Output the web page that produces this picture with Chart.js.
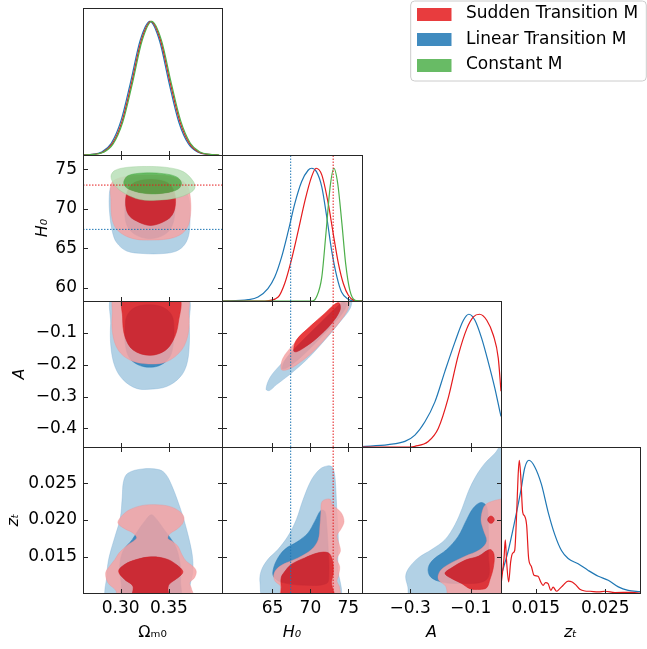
<!DOCTYPE html>
<html><head><meta charset="utf-8">
<script src="https://cdn.jsdelivr.net/npm/chart.js@4.4.1/dist/chart.umd.min.js"></script>
<style>
html,body{margin:0;padding:0;background:#fff;}
body{position:relative;width:647px;height:649px;overflow:hidden;}
canvas{position:absolute;}
</style></head><body>
<script>
// ---------- axis ranges & ticks ----------
const omRange=[0.261,0.405];
const h0Range=[58.35,76.8];
const aRange=[-0.4585,0.0];
const ztRange=[0.0100,0.0300];
const densRange=[0,1.1];
const omTicks=[0.30,0.35];
const h0Ticks=[65,70,75];
const h0YTicks=[60,65,70,75];
const aXTicks=[-0.3,-0.1];
const aYTicks=[-0.4,-0.3,-0.2,-0.1];
const ztXTicks=[0.015,0.025];
const ztYTicks=[0.015,0.020,0.025];
const seriesNames=['Sudden Transition M','Linear Transition M','Constant M'];
const h0Planck=67.4, h0SH0ES=73.0;

// ---------- 1D marginals [x, density] ----------
const om_lin=[[0.2603,0.0006],[0.2703,0.005],[0.2803,0.023],[0.2903,0.088],[0.3003,0.255],[0.3103,0.545],[0.3203,0.86],[0.3303,1.0],[0.3403,0.855],[0.3503,0.535],[0.3603,0.245],[0.3703,0.082],[0.3803,0.02],[0.3903,0.004],[0.4003,0.0005]];
const om_sud=[[0.2614,0.0005],[0.2714,0.004],[0.2814,0.021],[0.2914,0.085],[0.3014,0.25],[0.3114,0.54],[0.3214,0.857],[0.3314,1.0],[0.3414,0.857],[0.3514,0.54],[0.3614,0.25],[0.3714,0.085],[0.3814,0.021],[0.3914,0.004],[0.4014,0.0005]];
const om_con=[[0.2622,0.0005],[0.2722,0.004],[0.2822,0.02],[0.2922,0.083],[0.3022,0.247],[0.3122,0.537],[0.3222,0.855],[0.3322,1.0],[0.3422,0.86],[0.3522,0.545],[0.3622,0.255],[0.3722,0.088],[0.3822,0.023],[0.3922,0.005],[0.4022,0.0006]];

const h0_lin=[[58.35,0],[61.8,0.01],[63.1,0.03],[64.4,0.093],[65.3,0.18],[66.2,0.33],[67.1,0.53],[67.95,0.735],[68.85,0.90],[69.7,0.985],[70.15,1.0],[70.8,0.975],[71.5,0.86],[72.15,0.635],[72.8,0.38],[73.5,0.18],[74.1,0.068],[75.0,0.013],[75.9,0],[76.8,0]];
const h0_sud=[[58.35,0],[64.0,0],[65.75,0.03],[66.6,0.13],[67.5,0.31],[68.4,0.53],[69.3,0.76],[70.15,0.935],[70.75,1.0],[71.5,0.95],[72.35,0.735],[73.0,0.51],[73.7,0.28],[74.35,0.13],[75.0,0.043],[75.7,0.005],[76.3,0],[76.8,0]];
const h0_con=[[58.35,0],[70.2,0],[70.8,0.03],[71.5,0.18],[72.05,0.51],[72.6,0.86],[73.1,1.0],[73.6,0.885],[74.15,0.585],[74.65,0.28],[75.2,0.08],[75.9,0.005],[76.8,0]];

const a_lin=[[-0.46,0.003],[-0.372,0.018],[-0.317,0.042],[-0.284,0.09],[-0.251,0.19],[-0.218,0.34],[-0.185,0.57],[-0.152,0.79],[-0.124,0.955],[-0.106,1.0],[-0.086,0.955],[-0.064,0.82],[-0.042,0.64],[-0.020,0.44],[-0.003,0.26],[0.0,0.23]];
const a_sud=[[-0.46,0],[-0.30,0],[-0.284,0.005],[-0.240,0.042],[-0.207,0.14],[-0.174,0.37],[-0.141,0.69],[-0.113,0.89],[-0.091,0.98],[-0.071,1.0],[-0.047,0.955],[-0.025,0.84],[-0.009,0.67],[0.0,0.42]];

const zt_lin=[[0.00995,0.12],[0.0110,0.31],[0.01197,0.54],[0.01292,0.79],[0.0134,0.94],[0.01403,1.0],[0.01486,0.95],[0.01581,0.82],[0.01678,0.61],[0.01774,0.44],[0.0187,0.32],[0.01966,0.26],[0.0211,0.22],[0.02255,0.17],[0.0240,0.126],[0.02543,0.096],[0.02688,0.046],[0.0283,0.02],[0.0300,0.01]];
const zt_sud=[[0.0100,0.06],[0.01043,0.26],[0.01062,0.40],[0.01081,0.235],[0.0111,0.083],[0.01139,0.235],[0.01168,0.30],[0.01197,0.32],[0.01226,0.61],[0.01245,0.87],[0.01263,1.0],[0.01283,0.89],[0.01312,0.61],[0.0134,0.58],[0.01369,0.51],[0.01398,0.26],[0.01437,0.20],[0.01475,0.134],[0.01533,0.126],[0.01572,0.083],[0.01606,0.058],[0.0164,0.078],[0.01678,0.07],[0.01717,0.02],[0.0175,0.045],[0.01798,0.013],[0.01846,0.033],[0.01894,0.058],[0.01966,0.09],[0.02024,0.083],[0.02072,0.063],[0.02134,0.028],[0.02207,0.015],[0.02279,0.013],[0.0240,0.008],[0.02496,0.013],[0.0264,0.003],[0.0288,0.005],[0.0300,0.0]];

// ---------- 2D contours (68% / 95%) ----------
const omH0_lin95=[[0.2882,71.58],[0.2889,69.07],[0.2917,66.98],[0.2959,65.73],[0.3062,64.67],[0.3234,64.35],[0.3441,64.35],[0.3579,64.67],[0.3665,65.52],[0.3710,66.98],[0.3717,69.90],[0.3700,71.58],[0.3614,73.27],[0.3476,73.90],[0.3234,74.03],[0.3027,73.69],[0.2906,72.85]];
const omH0_lin68=[[0.3303,73.90],[0.3476,73.48],[0.3545,72.00],[0.3562,70.10],[0.3538,68.00],[0.3458,66.77],[0.3303,66.23],[0.3148,66.77],[0.3062,68.00],[0.3045,70.10],[0.3069,72.00],[0.3148,73.40]];
const omH0_sud95=[[0.2906,73.27],[0.2899,71.17],[0.2913,68.65],[0.2975,67.20],[0.3130,66.23],[0.3338,66.06],[0.3545,66.35],[0.3665,67.20],[0.3717,68.65],[0.3724,71.17],[0.3683,73.06],[0.3545,74.03],[0.3269,74.27],[0.3027,74.03]];
const omH0_sud68=[[0.3310,73.70],[0.3476,73.35],[0.3545,72.47],[0.3569,70.90],[0.3538,69.30],[0.3458,68.45],[0.3310,67.90],[0.3165,68.45],[0.3079,69.30],[0.3051,70.90],[0.3079,72.47],[0.3148,73.35]];
const omH0_con95=[[0.2900,74.10],[0.2938,74.83],[0.3062,75.23],[0.3269,75.35],[0.3476,75.23],[0.3648,74.70],[0.3752,73.48],[0.3769,72.64],[0.3717,72.00],[0.3579,71.38],[0.3372,71.08],[0.3200,71.17],[0.3045,71.92],[0.2941,72.93]];
const omH0_con68=[[0.3034,73.48],[0.3079,74.20],[0.3234,74.52],[0.3441,74.44],[0.3579,74.03],[0.3630,73.27],[0.3596,72.50],[0.3458,72.00],[0.3269,71.92],[0.3114,72.34],[0.3045,72.85]];

const omA_lin95=[[0.2923,0.0125],[0.2896,-0.0706],[0.2899,-0.1437],[0.2941,-0.2060],[0.3027,-0.2478],[0.3165,-0.2747],[0.3303,-0.2770],[0.3476,-0.2686],[0.3614,-0.2394],[0.3683,-0.2008],[0.3710,-0.1437],[0.3710,-0.0706],[0.3683,0.0125]];
const omA_lin68=[[0.3298,-0.0120],[0.3440,-0.0200],[0.3530,-0.0450],[0.3552,-0.0850],[0.3545,-0.1350],[0.3510,-0.1750],[0.3420,-0.2000],[0.3300,-0.2080],[0.3180,-0.2000],[0.3090,-0.1780],[0.3050,-0.1400],[0.3045,-0.0900],[0.3065,-0.0470],[0.3150,-0.0200]];
const omA_sud95=[[0.2941,0.0125],[0.2913,-0.0394],[0.2917,-0.1019],[0.2975,-0.1540],[0.3096,-0.1852],[0.3286,-0.1977],[0.3476,-0.1904],[0.3631,-0.1540],[0.3700,-0.1019],[0.3707,-0.0394],[0.3683,0.0125]];
const omA_sud68=[[0.3034,0.0125],[0.3020,-0.0500],[0.3045,-0.1122],[0.3130,-0.1540],[0.3303,-0.1706],[0.3458,-0.1560],[0.3545,-0.1228],[0.3596,-0.0706],[0.3596,0.0125]];

const h0A_lin95=[[64.16,-0.277],[64.70,-0.2394],[66.15,-0.1978],[67.70,-0.1594],[69.91,-0.1072],[72.35,-0.0500],[74.12,-0.0063],[74.50,0.0080],[75.40,0.0060],[75.23,-0.0237],[73.90,-0.0656],[71.90,-0.1228],[69.69,-0.1800],[67.48,-0.2269],[65.49,-0.2634],[64.60,-0.2812]];
const h0A_lin68=[[66.29,-0.2125],[66.82,-0.1800],[68.59,-0.1331],[71.24,-0.0706],[73.46,-0.0188],[74.35,-0.0030],[74.79,-0.0134],[73.68,-0.0550],[71.46,-0.1125],[68.81,-0.1750],[67.04,-0.2081]];
const h0A_sud95=[[66.15,-0.2144],[66.37,-0.1800],[67.70,-0.1384],[69.91,-0.0812],[72.35,-0.0290],[73.50,-0.0060],[74.20,0.0080],[75.10,0.0080],[75.05,-0.0185],[74.35,-0.0500],[72.57,-0.1020],[70.35,-0.1594],[68.15,-0.2009],[66.82,-0.2166]];
const h0A_sud68=[[67.79,-0.1562],[68.15,-0.1228],[69.91,-0.0812],[71.90,-0.0394],[73.24,-0.0094],[73.81,-0.0070],[73.90,-0.0290],[72.79,-0.0706],[70.80,-0.1175],[69.03,-0.1487],[68.15,-0.1594]];

const omZt_lin95=[[0.2869,0.0092],[0.2858,0.01254],[0.2879,0.01482],[0.2937,0.01754],[0.2996,0.02027],[0.3016,0.02300],[0.3030,0.02527],[0.3075,0.02641],[0.3230,0.02700],[0.3404,0.02687],[0.3472,0.02618],[0.3534,0.02458],[0.3593,0.02254],[0.3645,0.02049],[0.3697,0.01800],[0.3741,0.01527],[0.3748,0.01299],[0.3721,0.01117],[0.3697,0.0092]];
const omZt_lin68=[[0.3317,0.02072],[0.3376,0.02004],[0.3438,0.01891],[0.3514,0.01754],[0.3576,0.01618],[0.3617,0.01390],[0.3621,0.01162],[0.3604,0.0092],[0.3016,0.0092],[0.3007,0.01117],[0.2990,0.01345],[0.3024,0.01572],[0.3120,0.01731],[0.3175,0.01845],[0.3248,0.01981]];
const omZt_sud95=[[0.2972,0.01959],[0.3007,0.02049],[0.3093,0.02140],[0.3230,0.02200],[0.3369,0.02209],[0.3507,0.02186],[0.3611,0.02117],[0.3656,0.02035],[0.3638,0.01945],[0.3576,0.01868],[0.3507,0.01809],[0.3490,0.01745],[0.3534,0.01708],[0.3593,0.01640],[0.3634,0.01527],[0.3679,0.01435],[0.3748,0.01367],[0.3783,0.01299],[0.3765,0.01209],[0.3714,0.01140],[0.3731,0.01072],[0.3748,0.0092],[0.2954,0.0092],[0.2954,0.01026],[0.2869,0.01140],[0.2845,0.01277],[0.2886,0.01367],[0.2940,0.01458],[0.2985,0.01550],[0.3080,0.01663],[0.3165,0.01754],[0.3127,0.01823],[0.3041,0.01881]];
const omZt_sud68=[[0.2979,0.01299],[0.3041,0.01390],[0.3162,0.01458],[0.3317,0.01495],[0.3472,0.01467],[0.3576,0.01390],[0.3645,0.01291],[0.3593,0.01209],[0.3507,0.01127],[0.3490,0.01072],[0.3490,0.0092],[0.3127,0.0092],[0.3127,0.01094],[0.3041,0.01186]];

const h0Zt_lin95=[[72.26,0.02741],[72.88,0.02722],[73.23,0.02595],[73.46,0.02186],[73.68,0.01731],[73.59,0.01367],[73.68,0.0092],[63.94,0.0092],[63.36,0.01140],[63.50,0.01299],[64.38,0.01458],[65.71,0.01595],[67.03,0.01777],[68.14,0.02004],[69.03,0.02277],[70.14,0.02550],[71.25,0.02696]];
const h0Zt_lin68=[[65.04,0.01277],[65.49,0.01435],[66.59,0.01595],[68.36,0.01708],[69.69,0.01823],[70.58,0.01981],[71.38,0.02131],[71.91,0.02118],[72.13,0.01959],[72.35,0.01595],[72.44,0.01277],[72.13,0.01131],[68.81,0.01108],[66.15,0.01149],[65.27,0.01209]];
const h0Zt_sud95=[[71.55,0.02254],[72.57,0.02286],[72.88,0.02209],[74.03,0.02104],[74.43,0.01981],[74.03,0.01877],[73.50,0.01786],[73.77,0.01677],[73.95,0.01572],[73.50,0.01468],[73.86,0.01358],[73.68,0.01231],[73.50,0.01162],[73.86,0.01072],[73.77,0.0092],[66.15,0.0092],[66.06,0.01094],[65.35,0.01162],[65.18,0.01254],[65.71,0.01345],[66.81,0.01413],[68.36,0.01481],[70.14,0.01595],[71.03,0.01731],[71.25,0.01913],[71.38,0.02095]];
const h0Zt_sud68=[[66.50,0.01277],[67.47,0.01390],[69.25,0.01481],[71.03,0.01550],[72.35,0.01550],[72.88,0.01458],[73.01,0.01277],[72.79,0.01140],[73.01,0.0092],[66.37,0.0092],[66.15,0.01094],[66.15,0.01209]];

const aZt_lin95=[[0.0022,0.03027],[-0.0199,0.02914],[-0.0529,0.02778],[-0.0835,0.02595],[-0.1078,0.02390],[-0.1277,0.02164],[-0.1518,0.01936],[-0.1847,0.01731],[-0.2287,0.01595],[-0.2728,0.01481],[-0.3034,0.01345],[-0.3144,0.01231],[-0.3078,0.01094],[-0.2968,0.0092],[0.0077,0.0092]];
const aZt_lin68=[[-0.0660,0.02240],[-0.0473,0.02186],[-0.0418,0.01913],[-0.0418,0.01550],[-0.0473,0.01186],[-0.1518,0.01131],[-0.2068,0.01163],[-0.2343,0.01231],[-0.2398,0.01345],[-0.2233,0.01458],[-0.1792,0.01595],[-0.1409,0.01777],[-0.1133,0.02004],[-0.0913,0.02164]];
const aZt_sud95=[[-0.0308,0.02254],[-0.0110,0.02277],[0.0022,0.02277],[0.0022,0.0092],[-0.1682,0.0092],[-0.1825,0.01094],[-0.2068,0.01186],[-0.2013,0.01299],[-0.1737,0.01390],[-0.1188,0.01503],[-0.0693,0.01595],[-0.0473,0.01708],[-0.0583,0.01868],[-0.0660,0.02004],[-0.0583,0.02164],[-0.0473,0.02222]];
const aZt_sud68=[[-0.1847,0.01267],[-0.1627,0.01345],[-0.1188,0.01449],[-0.0750,0.01503],[-0.0364,0.01595],[-0.0232,0.01531],[-0.0254,0.01345],[-0.0364,0.01186],[-0.0473,0.01072],[-0.0693,0.01049],[-0.1023,0.01059],[-0.1298,0.01131],[-0.1572,0.01186]];
const aZt_sud68b=[[-0.0440,0.02004],[-0.0397,0.02041],[-0.0331,0.02055],[-0.0265,0.02041],[-0.0221,0.02004],[-0.0265,0.01967],[-0.0331,0.01954],[-0.0397,0.01967]];

// ---------- styling ----------
const COL={
  sud:{line:'rgb(228,26,28)',c68:'rgba(228,26,28,0.85)',c95:'rgba(244,163,164,0.85)',e68:'rgba(228,26,28,0.9)',e95:'rgba(238,140,142,0.6)'},
  lin:{line:'rgb(31,119,180)',c68:'rgba(31,119,180,0.85)',c95:'rgba(165,201,225,0.85)',e68:'rgba(31,119,180,0.9)',e95:'rgba(120,170,210,0.6)'},
  con:{line:'rgb(77,175,74)',c68:'rgba(77,175,74,0.85)',c95:'rgba(184,223,183,0.85)',e68:'rgba(77,175,74,0.9)',e95:'rgba(140,200,138,0.6)'}
};
Chart.defaults.font.family="'DejaVu Sans', 'Liberation Sans', sans-serif";
Chart.defaults.color='#000';

// closes polygon outlines smoothly, and makes the 68% region a separate band from the 95% one
Chart.register({
  id:'contourBands',
  beforeDatasetUpdate(chart,args){
    const ds=chart.data.datasets[args.index];
    if(ds&&ds.closed&&args.meta.dataset){args.meta.dataset._loop=true;args.meta.dataset._fullLoop=true;}
  },
  afterDatasetDraw(chart,args){
    const ds=chart.data.datasets[args.index];
    if(ds.eraseNext) chart.ctx.globalCompositeOperation='destination-out';
    if(ds.resetAfter) chart.ctx.globalCompositeOperation='source-over';
  }
});

const P=a=>a.map(p=>({x:p[0],y:p[1]}));
function shape(arr,fillC,lineC,bw,order,extra){
  return Object.assign({data:P(arr),closed:true,showLine:true,fill:'shape',backgroundColor:fillC,borderColor:lineC,borderWidth:bw,pointRadius:0,tension:0.35,capBezierPoints:false,order:order},extra||{});
}
// one series: 95% band, then 68% region(s)
function series(s,outer,inners){
  const out=[shape(outer,COL[s].c95,COL[s].e95,0.6,20,{eraseNext:true})];
  inners.forEach((a,i)=>out.push(shape(a,'#000','rgba(0,0,0,0)',0.6,15-i,{resetAfter:i===inners.length-1})));
  inners.forEach((a,i)=>out.push(shape(a,COL[s].c68,COL[s].e68,0.6,10-i)));
  return out;
}
function curve(arr,s,order){
  return {data:P(arr),showLine:true,fill:false,borderColor:COL[s].line,backgroundColor:COL[s].line,borderWidth:1.2,pointRadius:0,cubicInterpolationMode:'monotone',order:order};
}
function vline(x,yr,s){
  return {data:[{x:x,y:yr[0]},{x:x,y:yr[1]}],showLine:true,fill:false,borderColor:COL[s].line,borderWidth:1,borderDash:[1.5,1.5],pointRadius:0,tension:0,order:0};
}
function hline(y,xr,s){
  return {data:[{x:xr[0],y:y},{x:xr[1],y:y}],showLine:true,fill:false,borderColor:COL[s].line,borderWidth:1,borderDash:[1.5,1.5],pointRadius:0,tension:0,order:0};
}
const fOm=v=>v.toFixed(2);
const fH0=v=>String(Math.round(v));
const fA=v=>(v<0?'\u2212':'')+Math.abs(v).toFixed(1);
const fZt=v=>v.toFixed(3);

const L=[83,222,362,501,640];
const T=[8,155,301,447,593];

function makePanel(col,row,spec){
  const m=3;
  const showX=row===3, showY=(col===0&&row>0);
  const cl=showY?0:L[col]-m, ct=T[row]-m, cr=L[col+1]+m, cb=showX?649:T[row+1]+m;
  const w=cr-cl,h=cb-ct;
  const layers=spec.layers;
  layers.forEach((dsList,li)=>{
    const isBase=li===0, isTop=li===layers.length-1;
    const cv=document.createElement('canvas');
    cv.width=w;cv.height=h;
    cv.style.left=cl+'px';cv.style.top=ct+'px';cv.style.width=w+'px';cv.style.height=h+'px';
    document.body.appendChild(cv);
    const plugins=[];
    if(isTop){
      plugins.push({id:'frame',afterDraw(chart){
        const c=chart.ctx,a=chart.chartArea,xs=chart.scales.x,ys=chart.scales.y;
        c.globalCompositeOperation='source-over';
        const l=Math.round(a.left)+0.5,r=Math.round(a.right)+0.5,t=Math.round(a.top)+0.5,b=Math.round(a.bottom)+0.5;
        c.save();c.strokeStyle='#262626';c.lineWidth=1;c.setLineDash([]);c.beginPath();
        spec.xt.forEach(v=>{const p=Math.round(xs.getPixelForValue(v))+0.5;c.moveTo(p,b);c.lineTo(p,b-4.5);if(spec.two){c.moveTo(p,t);c.lineTo(p,t+4.5);}});
        if(spec.two){spec.yt.forEach(v=>{const p=Math.round(ys.getPixelForValue(v))+0.5;c.moveTo(l,p);c.lineTo(l+4.5,p);c.moveTo(r,p);c.lineTo(r-4.5,p);});}
        c.stroke();c.strokeRect(l,t,r-l,b-t);c.restore();
      }});
    }
    const dX=isBase&&showX, dY=isBase&&showY;
    const xScale={type:'linear',position:'bottom',min:spec.xr[0],max:spec.xr[1],display:dX,
      grid:{display:false,drawTicks:false},border:{display:false},
      ticks:{autoSkip:false,maxRotation:0,minRotation:0,padding:5,font:{size:17},color:'#000',callback:v=>spec.xf(v)},
      afterBuildTicks:s=>{s.ticks=spec.xt.map(v=>({value:v}));},
      title:{display:!!spec.xTitle,text:spec.xTitle||'',color:'#000',font:{size:16,style:spec.xStyle||'normal'},padding:{top:0,bottom:6.4}}};
    if(dX) xScale.afterFit=s=>{s.height=56;s.paddingLeft=0;s.paddingRight=0;s.paddingTop=0;s.paddingBottom=0;};
    const yScale={type:'linear',position:'left',min:spec.yr[0],max:spec.yr[1],display:dY,
      grid:{display:false,drawTicks:false},border:{display:false},
      ticks:{autoSkip:false,padding:6,font:{size:17},color:'#000',callback:v=>spec.yf?spec.yf(v):''},
      afterBuildTicks:s=>{s.ticks=(spec.yt||[]).map(v=>({value:v}));},
      title:{display:!!spec.yTitle,text:spec.yTitle||'',color:'#000',font:{size:16,style:spec.yStyle||'normal'},padding:{top:spec.yPad||0,bottom:0}}};
    if(dY) yScale.afterFit=s=>{s.width=83;s.paddingTop=0;s.paddingBottom=0;s.paddingLeft=0;s.paddingRight=0;};
    const pad={left:showY?(dY?0:83):m,top:m,right:m,bottom:showX?(dX?0:56):m};
    const ds=isTop?dsList.concat(spec.lines||[]):dsList;
    new Chart(cv,{type:'scatter',data:{datasets:ds},
      options:{responsive:false,animation:false,events:[],devicePixelRatio:1,
        layout:{padding:pad,autoPadding:false},
        plugins:{legend:{display:false},tooltip:{enabled:false}},
        scales:{x:xScale,y:yScale}},
      plugins:plugins});
  });
}

// Row 0: Omega_m0 marginal
makePanel(0,0,{xr:omRange,yr:densRange,xt:omTicks,xf:fOm,two:false,
  layers:[[curve(om_lin,'lin',3),curve(om_sud,'sud',2),curve(om_con,'con',1)]]});
// Row 1
makePanel(0,1,{xr:omRange,yr:h0Range,xt:omTicks,yt:h0YTicks,xf:fOm,yf:fH0,two:true,yTitle:'H\u2080',yStyle:'italic',yPad:33,
  layers:[series('lin',omH0_lin95,[omH0_lin68]),series('sud',omH0_sud95,[omH0_sud68]),series('con',omH0_con95,[omH0_con68])],
  lines:[hline(h0SH0ES,omRange,'sud'),hline(h0Planck,omRange,'lin')]});
makePanel(1,1,{xr:h0Range,yr:densRange,xt:h0Ticks,xf:fH0,two:false,
  layers:[[curve(h0_lin,'lin',3),curve(h0_sud,'sud',2),curve(h0_con,'con',1)]],
  lines:[vline(h0Planck,densRange,'lin'),vline(h0SH0ES,densRange,'sud')]});
// Row 2
makePanel(0,2,{xr:omRange,yr:aRange,xt:omTicks,yt:aYTicks,xf:fOm,yf:fA,two:true,yTitle:'A',yStyle:'italic',yPad:10.5,
  layers:[series('lin',omA_lin95,[omA_lin68]),series('sud',omA_sud95,[omA_sud68])]});
makePanel(1,2,{xr:h0Range,yr:aRange,xt:h0Ticks,yt:aYTicks,xf:fH0,yf:fA,two:true,
  layers:[series('lin',h0A_lin95,[h0A_lin68]),series('sud',h0A_sud95,[h0A_sud68])],
  lines:[vline(h0Planck,aRange,'lin'),vline(h0SH0ES,aRange,'sud')]});
makePanel(2,2,{xr:aRange,yr:densRange,xt:aXTicks,xf:fA,two:false,
  layers:[[curve(a_lin,'lin',2),curve(a_sud,'sud',1)]]});
// Row 3
makePanel(0,3,{xr:omRange,yr:ztRange,xt:omTicks,yt:ztYTicks,xf:fOm,yf:fZt,two:true,
  xTitle:'\u03A9\u2098\u2080',yTitle:'z\u209C',yStyle:'italic',yPad:4.5,
  layers:[series('lin',omZt_lin95,[omZt_lin68]),series('sud',omZt_sud95,[omZt_sud68])]});
makePanel(1,3,{xr:h0Range,yr:ztRange,xt:h0Ticks,yt:ztYTicks,xf:fH0,two:true,xTitle:'H\u2080',xStyle:'italic',
  layers:[series('lin',h0Zt_lin95,[h0Zt_lin68]),series('sud',h0Zt_sud95,[h0Zt_sud68])],
  lines:[vline(h0Planck,ztRange,'lin'),vline(h0SH0ES,ztRange,'sud')]});
makePanel(2,3,{xr:aRange,yr:ztRange,xt:aXTicks,yt:ztYTicks,xf:fA,two:true,xTitle:'A',xStyle:'italic',
  layers:[series('lin',aZt_lin95,[aZt_lin68]),series('sud',aZt_sud95,[aZt_sud68,aZt_sud68b])]});
makePanel(3,3,{xr:ztRange,yr:densRange,xt:ztXTicks,xf:fZt,two:false,xTitle:'z\u209C',xStyle:'italic',
  layers:[[curve(zt_lin,'lin',2),curve(zt_sud,'sud',1)]]});

// ---------- legend ----------
(function(){
  function swatch(color){const c=document.createElement('canvas');c.width=41;c.height=13;const g=c.getContext('2d');g.fillStyle=color;g.fillRect(0,0,35,13);return c;}
  const cv=document.createElement('canvas');
  cv.width=239;cv.height=200;cv.style.left='408px';cv.style.top='-3px';cv.style.width='239px';cv.style.height='200px';
  document.body.appendChild(cv);
  const box={id:'legendBox',beforeDraw(chart){const c=chart.ctx;c.save();c.beginPath();c.roundRect(2.7,4,235.6,80,4);c.fillStyle='rgba(255,255,255,0.8)';c.fill();c.strokeStyle='#cccccc';c.lineWidth=1;c.stroke();c.restore();}};
  const keys=['sud','lin','con'];
  new Chart(cv,{type:'scatter',
    data:{datasets:keys.map((k,i)=>({label:seriesNames[i],data:[],backgroundColor:COL[k].c68,borderColor:COL[k].c68,pointStyle:swatch(COL[k].c68)}))},
    options:{responsive:false,animation:false,events:[],devicePixelRatio:1,layout:{padding:0},
      scales:{x:{display:false},y:{display:false}},
      plugins:{tooltip:{enabled:false},legend:{display:true,position:'top',align:'start',
        labels:{usePointStyle:true,pointStyleWidth:41,boxHeight:13,padding:8.5,font:{size:17},color:'#000',
          generateLabels:chart=>chart.data.datasets.map((d,i)=>({text:d.label,fillStyle:d.backgroundColor,strokeStyle:d.backgroundColor,lineWidth:0,pointStyle:d.pointStyle,hidden:false,datasetIndex:i,fontColor:'#000'}))}}}},
    plugins:[box]});
})();
</script>
</body></html>
